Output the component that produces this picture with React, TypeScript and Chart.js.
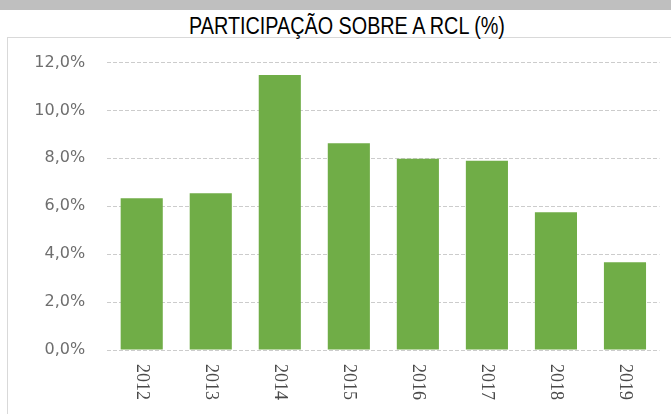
import React, { useEffect, useRef } from "react";
import { Chart, registerables } from "chart.js";

Chart.register(...registerables);

const TITLE = "PARTICIPAÇÃO SOBRE A RCL (%)";
const categories = ["2012", "2013", "2014", "2015", "2016", "2017", "2018", "2019"];
const values = [6.33, 6.54, 11.48, 8.63, 7.98, 7.9, 5.75, 3.66];
const yMin = 0;
const yMax = 12;
const yStep = 2;

const formatPct = (v: number) => v.toFixed(1).replace(".", ",") + "%";

const rotatedLabels = {
  id: "rotatedLabels",
  afterDraw(chart: any) {
    const xs = chart.scales.x;
    const ctx = chart.ctx;
    ctx.save();
    ctx.font = "18px 'Liberation Serif', 'Times New Roman', serif";
    ctx.fillStyle = "#4a4a4a";
    ctx.textAlign = "left";
    ctx.textBaseline = "middle";
    categories.forEach((lab, i) => {
      const x = xs.getPixelForTick(i);
      ctx.save();
      ctx.translate(x, chart.chartArea.bottom + 14);
      ctx.rotate(Math.PI / 2);
      ctx.fillText(lab, 0, 0);
      ctx.restore();
    });
    ctx.restore();
  },
};

export default function App() {
  const ref = useRef<HTMLCanvasElement | null>(null);

  useEffect(() => {
    if (!ref.current) return;
    const chart = new Chart(ref.current, {
      type: "bar",
      data: {
        labels: categories,
        datasets: [
          {
            data: values,
            backgroundColor: "#70ad47",
            borderWidth: 0,
            categoryPercentage: 1,
            barPercentage: 0.61,
          },
        ],
      },
      plugins: [rotatedLabels],
      options: {
        animation: false,
        responsive: false,
        maintainAspectRatio: false,
        devicePixelRatio: 1,
        layout: { padding: { left: 0, right: 11.5, top: 62.5, bottom: 64 } },
        plugins: {
          legend: { display: false },
          title: { display: false },
          tooltip: { enabled: false },
        },
        scales: {
          x: {
            grid: { display: false, drawTicks: false },
            border: { display: false },
            ticks: { display: false },
            afterFit(scale: any) {
              scale.height = 0;
            },
          },
          y: {
            min: yMin,
            max: yMax,
            grid: { color: "#cccccc", drawTicks: false, lineWidth: 1 },
            border: { display: false, dash: [4, 2] },
            ticks: {
              stepSize: yStep,
              padding: 22,
              color: "#6e6e6e",
              font: { family: "'DejaVu Sans', sans-serif", size: 16 },
              callback: (v: any) => formatPct(Number(v)),
            },
            afterFit(scale: any) {
              scale.width = 107.2;
            },
          },
        },
      },
    });
    return () => chart.destroy();
  }, []);

  return (
    <div
      style={{
        position: "fixed",
        left: 0,
        top: 0,
        width: 671,
        height: 414,
        background: "#ffffff",
        overflow: "hidden",
      }}
    >
      <div
        style={{
          position: "absolute",
          left: 0,
          top: 0,
          width: 671,
          height: 10,
          background: "#bfbfbf",
        }}
      />
      <div
        style={{
          position: "absolute",
          left: 7,
          top: 37,
          width: 670,
          height: 420,
          border: "1px solid #d9d9d9",
          boxSizing: "border-box",
        }}
      />
      <div
        style={{
          position: "absolute",
          left: 147,
          top: 14.5,
          width: 400,
          textAlign: "center",
          fontFamily: "'Liberation Sans', Arial, sans-serif",
          fontSize: 23,
          lineHeight: "23px",
          color: "#000000",
          whiteSpace: "nowrap",
          transform: "scaleX(0.86)",
          transformOrigin: "center",
        }}
      >
        {TITLE}
      </div>
      <canvas
        ref={ref}
        width={671}
        height={414}
        style={{ position: "absolute", left: 0, top: 0, width: 671, height: 414 }}
      />
    </div>
  );
}
